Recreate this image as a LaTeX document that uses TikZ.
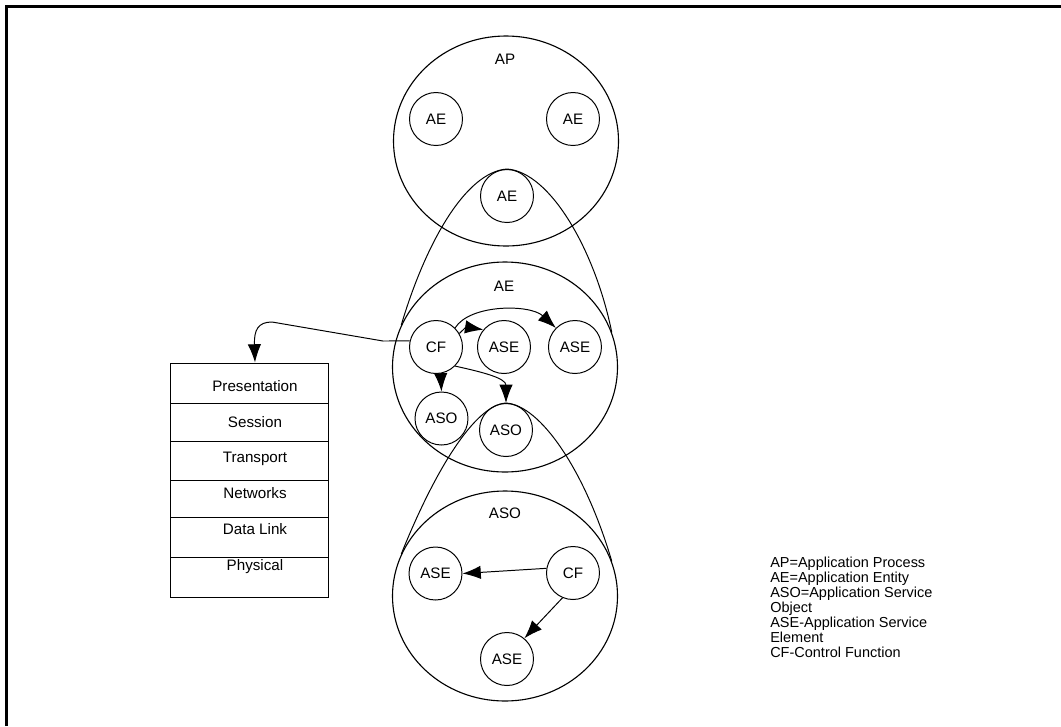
\documentclass[tikz,border=0pt]{standalone}
\usepackage{fontspec}
\setmainfont{Liberation Sans}
\usetikzlibrary{positioning}
\usetikzlibrary{shapes.geometric}
\usetikzlibrary{arrows.meta}
\newdimen\pxu
\pxu=0.025cm
\newcommand{\lbl}{\fontsize{10.8}{12}\selectfont}
\newcommand{\keyfont}{\fontsize{10.3}{10.67}\selectfont}
\tikzset{
	unit/.style={draw, circle, line width=0.7pt, minimum size=53\pxu, inner sep=0pt, font=\lbl},
	group/.style={draw, ellipse, line width=0.8pt, minimum width=225\pxu, minimum height=210\pxu, inner sep=0pt},
	title/.style={inner sep=0pt, font=\lbl},
	% layer names of the stack
	layer/.style={inner sep=0pt, anchor=base, font=\lbl},
	legend/.style={inner sep=0pt, align=left, font=\keyfont},
	zoomline/.style={line width=0.7pt},
}
\tikzset{
	flow/.style={line width=0.7pt, -{Latex[length=13pt, width=9.5pt]}},
}

\begin{document}
\begin{tikzpicture}[x=0.025cm, y=-0.025cm]
		\useasboundingbox (0,0) rectangle (1061,726);
		\draw[line width=1.7pt] (6.5,726) -- (6.5,6.5) -- (1061,6.5);
		
		% application process
		\node (ap) [group] at (506,141) {};
		\node (apTitle) [title] at (505,59) {AP};
		\node (aeL) [unit] at (436,119) {AE};
		\node (aeR) [unit] at (573,119) {AE};
		\node (aeB) [unit] at (507,196) {AE};
		
		% application entity
		\node (ae) [group] at (505,367) {};
		\node (aeTitle) [title] at (504,286) {AE};
		\node (cf) [unit] at (436,347) {CF};
		\node (aseA) [unit, right=14\pxu of cf] {ASE};
		\node (aseB) [unit, right=17\pxu of aseA] {ASE};
		\node (asoA) [unit] at (441.5,418.5) {ASO};
		\node (asoB) [unit] at (506,430) {ASO};
		
		% application service object
		\node (aso) [group] at (505,596) {};
		\node (asoTitle) [title] at (505,513) {ASO};
		\node (aseC) [unit] at (435.5,573.5) {ASE};
		\node (cfB) [unit] at (573,573) {CF};
		\node (aseD) [unit] at (507,659) {ASE};
		
		% protocol stack
		\node (stack) [draw, line width=0.7pt, minimum width=158\pxu, minimum height=234\pxu, inner sep=0pt] at (249,480) {};
		\foreach \y in {403,441,480,517,557}
			\draw[line width=0.7pt] (170,\y) -- (328,\y);
		\foreach \name/\txt/\ybase in {pres/Presentation/391, sess/Session/427, trans/Transport/462, net/Networks/498, link/Data Link/534, phys/Physical/570}
			\node (\name) [layer] at (255,\ybase) {\txt};
		
		\node (key) [legend, anchor=north west] at (770,557) {AP=Application Process\\AE=Application Entity\\ASO=Application Service\\Object\\ASE-Application Service\\Element\\CF-Control Function};
		
		\begin{scope}[zoomline]
			\draw (ae.158) .. controls (425,245) and (465,172) .. (aeB.north) .. controls (550,172) and (595,250) .. (ae.18);
			\draw (aso.158) .. controls (435,470) and (475,405) .. (asoB.north) .. controls (540,405) and (585,470) .. (aso.18);
		\end{scope}
		
		\begin{scope}[flow]
			\draw (cf.167) -- (383,341) -- (272,322) .. controls (258,322) and (254,330) .. (stack.north -| pres);
			\draw (cf.30) .. controls (466,327) .. (aseA.140);
			\draw (cf.45) .. controls (470,304) and (530,304) .. (aseB.135);
			\draw (cf.-80) -- (asoA.north);
			\draw (cf.-45) .. controls (482,372) and (506,378) .. (asoB.north);
			\draw (cfB.170) -- (aseC.east);
			\draw (cfB.-113) -- (aseD.50);
		\end{scope}
	\end{tikzpicture}
\end{document}
